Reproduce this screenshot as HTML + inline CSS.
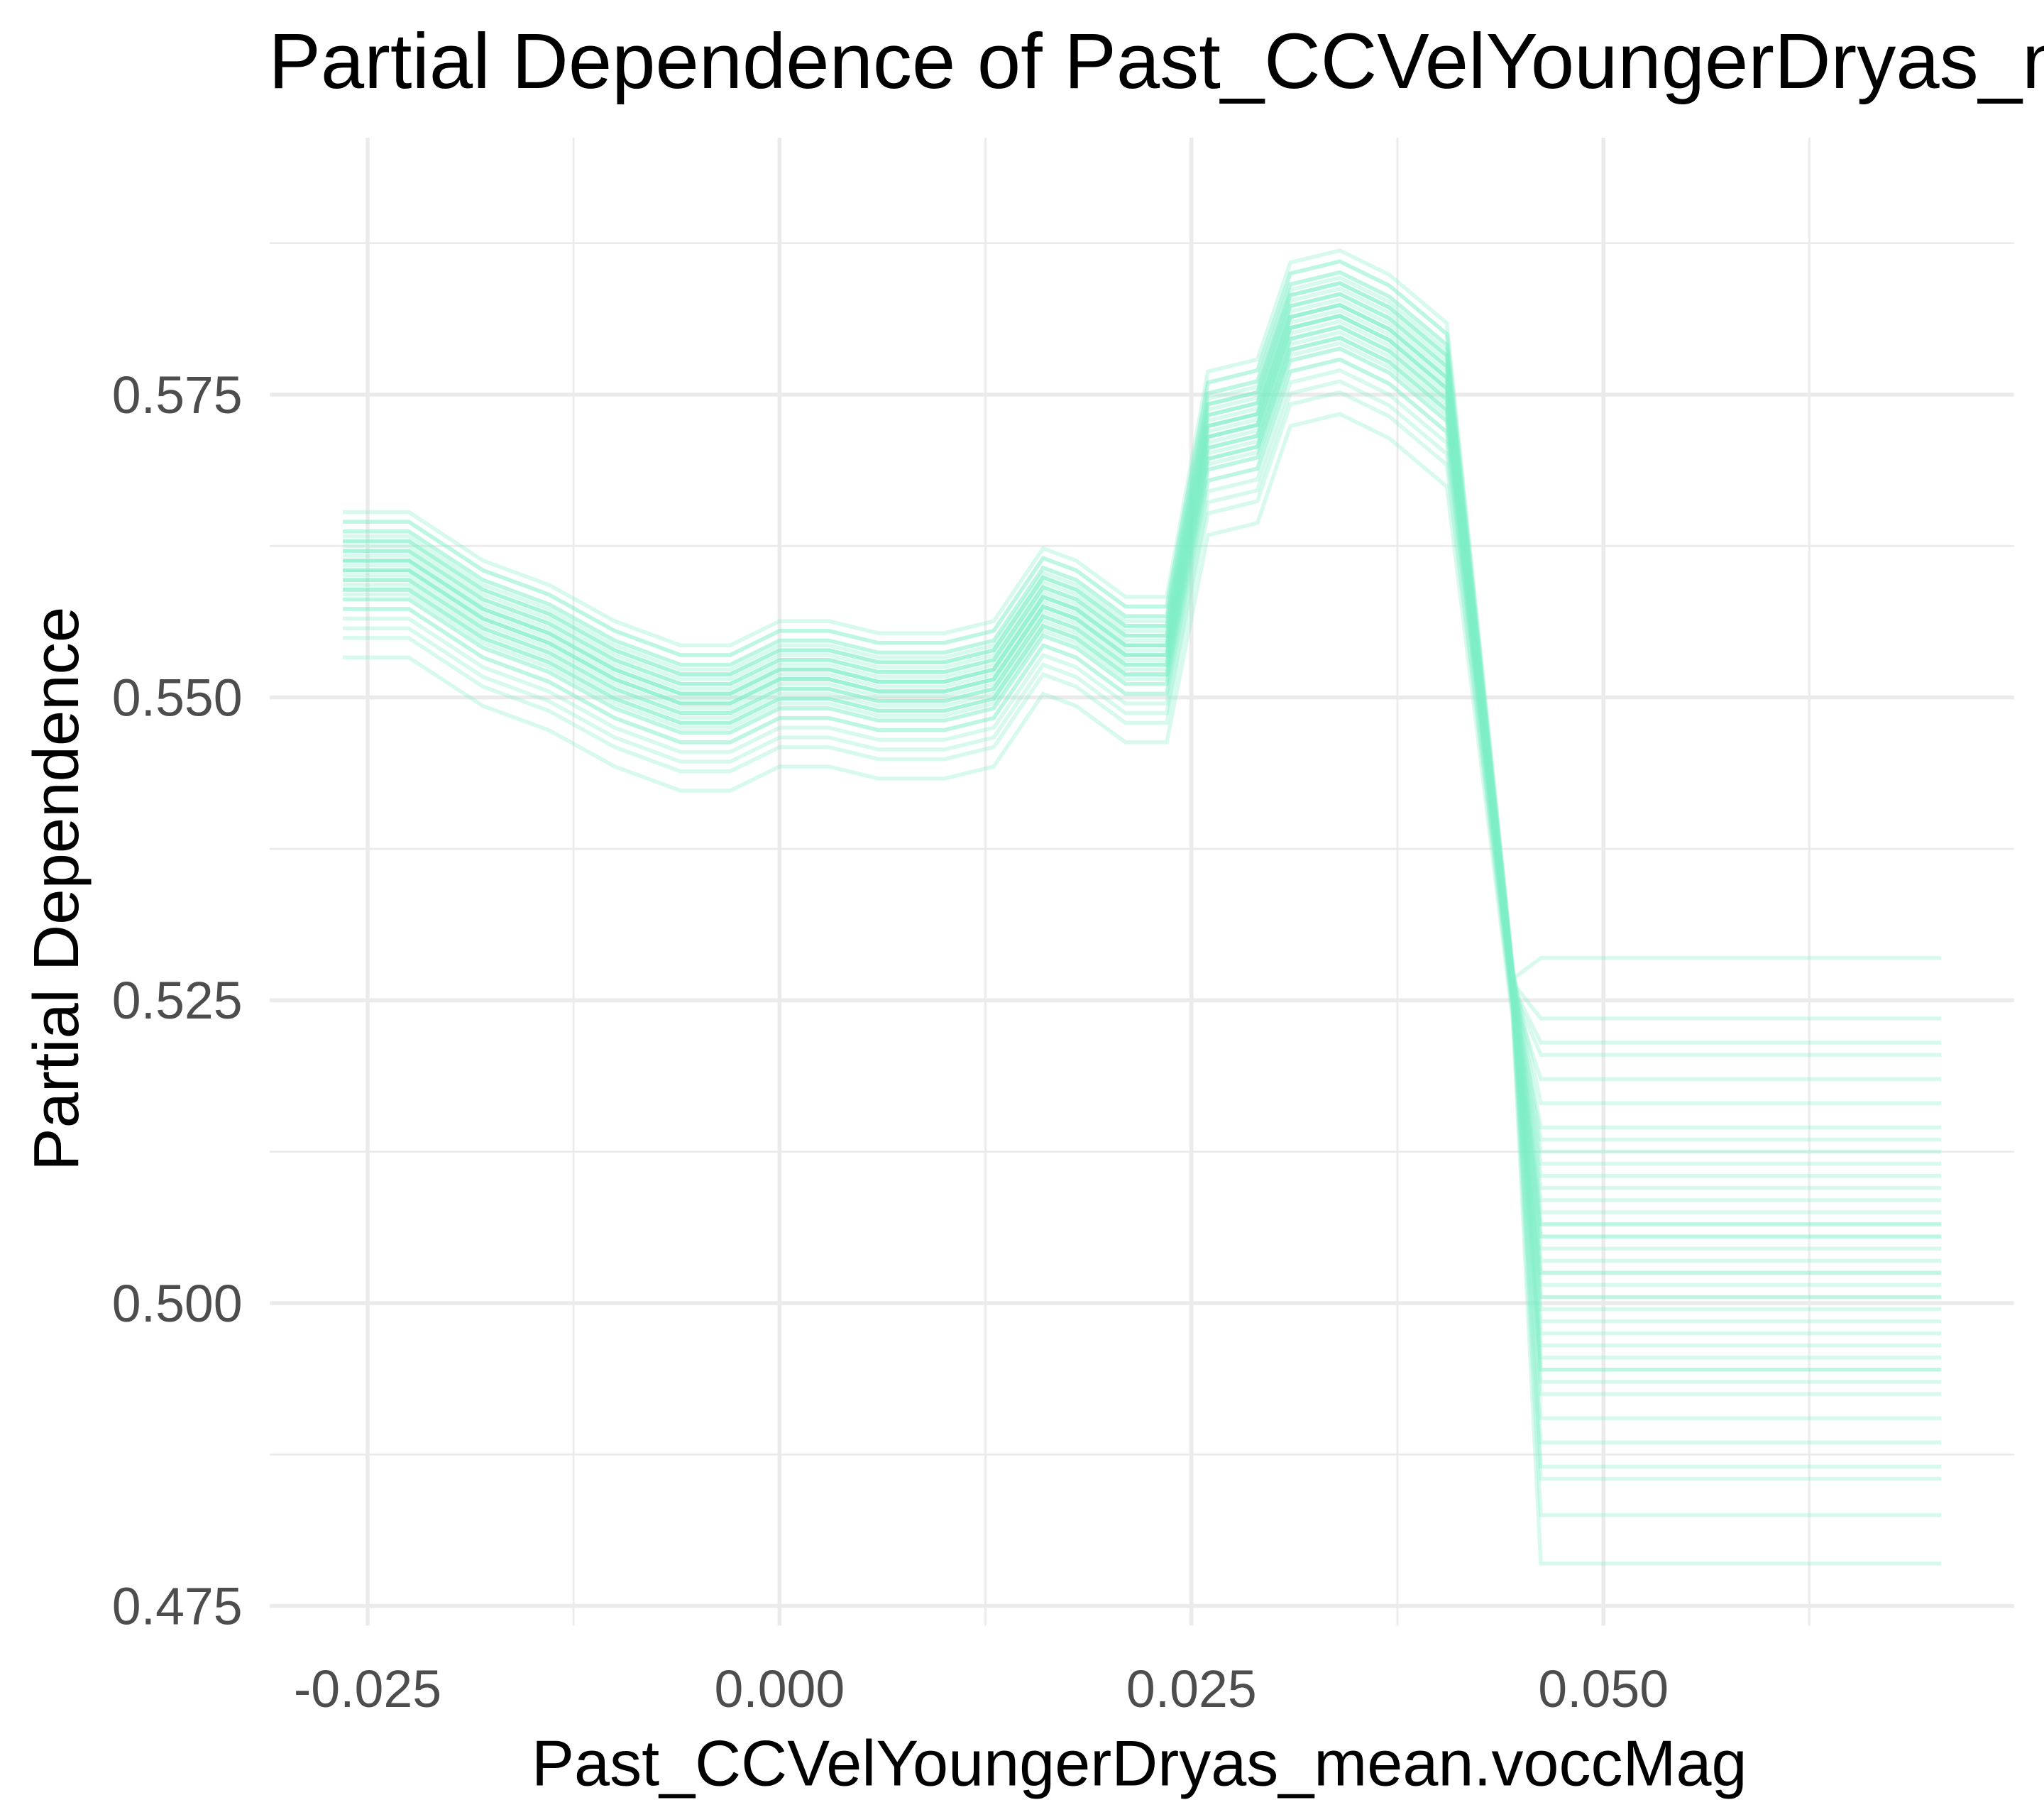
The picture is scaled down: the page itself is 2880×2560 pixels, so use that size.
<!DOCTYPE html>
<html><head><meta charset="utf-8"><style>
html,body{margin:0;padding:0;background:#fff;}
svg{display:block;font-family:"Liberation Sans",sans-serif;}
</style></head><body>
<svg id="chart" width="2880" height="2560" viewBox="0 0 1568 1386" preserveAspectRatio="none" xmlns="http://www.w3.org/2000/svg">
<rect x="0" y="0" width="1568" height="1386" fill="#fff"/>
<g id="grid"></g>
<g id="lines"></g>
<g id="ticks"></g>
<text x="206" y="67" font-size="60" fill="#000">Partial Dependence of Past_CCVelYoungerDryas_mean.voccMag</text>
<text x="874" y="1362" font-size="49" text-anchor="middle" fill="#000">Past_CCVelYoungerDryas_mean.voccMag</text>
<text transform="translate(60,678) rotate(-90)" font-size="49" text-anchor="middle" fill="#000">Partial Dependence</text>
</svg>
<script>
const xVals=[-0.0265,-0.0225,-0.018,-0.014,-0.01,-0.006,-0.003,0,0.003,0.006,0.01,0.013,0.016,0.018,0.021,0.0235,0.026,0.029,0.031,0.034,0.037,0.0405];
const baseY=[0.5605,0.5605,0.5565,0.5545,0.5515,0.5495,0.5495,0.5515,0.5515,0.5505,0.5505,0.5515,0.5575,0.5565,0.5535,0.5535,0.5715,0.5725,0.5805,0.5815,0.5795,0.5755];
const dropX=0.0445, dropY=0.526;
const rightX=[0.0462,0.05,0.055,0.06,0.065,0.0705];
const leftOffsets=[-0.009,-0.007,-0.006,-0.005,-0.004,-0.004,-0.003,-0.003,-0.002,-0.002,-0.002,-0.001,-0.001,-0.001,0,0,0,0,0.001,0.001,0.001,0.001,0.002,0.002,0.002,0.003,0.003,0.003,0.004,0.004,0.005,0.005,-0.0015,-0.0005,0.0005,0.0015,0.0025,-0.0025,0.0035,0.006];
const rightLevels=[0.4785,0.4825,0.4855,0.4865,0.4885,0.4905,0.4925,0.4935,0.4945,0.4955,0.4965,0.4975,0.4985,0.4995,0.5005,0.5015,0.5025,0.5025,0.5035,0.5045,0.5055,0.5055,0.5065,0.5075,0.5085,0.5095,0.5105,0.5115,0.5125,0.5135,0.5145,0.5165,0.5185,0.5205,0.5215,0.5235,0.5285,0.5005,0.4945,0.5065];
const xTicks=[-0.025,0,0.025,0.05], xTickLabels=["-0.025","0.000","0.025","0.050"];
const yTicks=[0.475,0.5,0.525,0.55,0.575], yTickLabels=["0.475","0.500","0.525","0.550","0.575"];
const xMinor=[-0.0125,0.0125,0.0375,0.0625], yMinor=[0.4875,0.5125,0.5375,0.5625,0.5875];
const px=v=>282+(v+0.025)*316/0.025;
const py=v=>301+(0.575-v)*231/0.025;
const NS="http://www.w3.org/2000/svg";
const grid=document.getElementById('grid'),lines=document.getElementById('lines'),ticks=document.getElementById('ticks');
function ln(p,x1,y1,x2,y2,w,nm){const l=document.createElementNS(NS,'line');l.setAttribute('x1',x1);l.setAttribute('y1',y1);l.setAttribute('x2',x2);l.setAttribute('y2',y2);l.setAttribute('stroke','#ebebeb');l.setAttribute('stroke-width',w);


p.appendChild(l);}
xMinor.forEach(v=>ln(grid,px(v),105,px(v),1240,1.5,'x-minor-gridline'));
yMinor.forEach(v=>ln(grid,207,py(v),1545,py(v),1.5,'y-minor-gridline'));
xTicks.forEach(v=>ln(grid,px(v),105,px(v),1240,3,'x-major-gridline'));
yTicks.forEach(v=>ln(grid,207,py(v),1545,py(v),3,'y-major-gridline'));
function txt(x,y,s,anchor,nm){const t=document.createElementNS(NS,'text');t.setAttribute('x',x);t.setAttribute('y',y);t.setAttribute('font-size','40');t.setAttribute('fill','#4d4d4d');t.setAttribute('text-anchor',anchor);t.textContent=s;


ticks.appendChild(t);}
xTicks.forEach((v,i)=>txt(px(v),1302,xTickLabels[i],'middle','x-tick-label'));
yTicks.forEach((v,i)=>txt(186,py(v)+14,yTickLabels[i],'end','y-tick-label'));
leftOffsets.forEach((d,i)=>{
  const pts=xVals.map((x,j)=>[px(x),py(baseY[j]+d*(j>=16?0.9:0.8))]);
  pts.push([px(dropX),py(dropY+d*0.3)]);
  rightX.forEach(x=>pts.push([px(x),py(rightLevels[i])]));
  const pl=document.createElementNS(NS,'polyline');
  pl.setAttribute('points',pts.map(p=>p[0].toFixed(1)+','+p[1].toFixed(1)).join(' '));
  pl.setAttribute('fill','none');pl.setAttribute('stroke','#7deec6');pl.setAttribute('stroke-opacity','0.3');pl.setAttribute('stroke-width','3');
  
  
  lines.appendChild(pl);
});
</script>
</body></html>
